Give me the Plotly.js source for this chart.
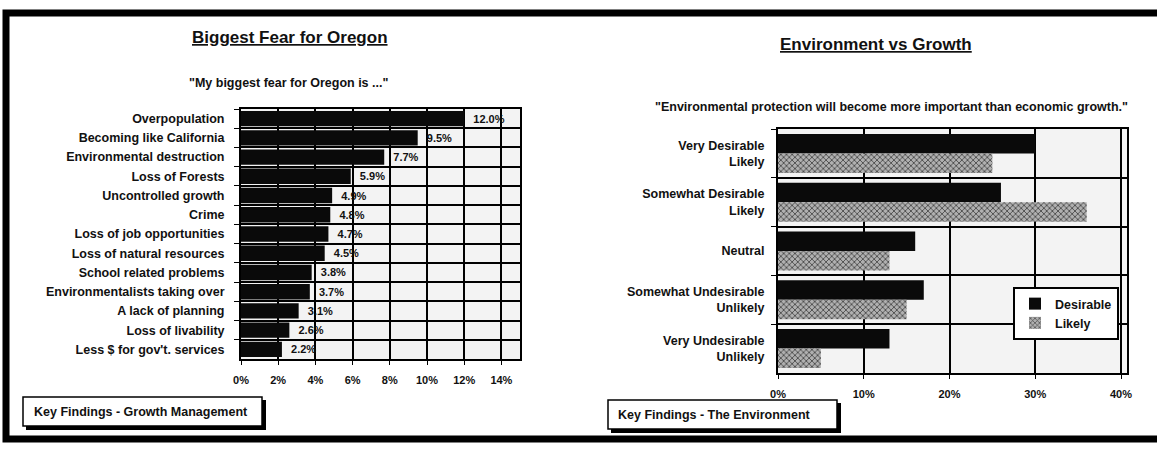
<!DOCTYPE html>
<html>
<head>
<meta charset="utf-8">
<script src="https://cdn.plot.ly/plotly-3.0.1.min.js"></script>
<style>
  html, body { margin: 0; padding: 0; background: #ffffff; }
  #chart { width: 1157px; height: 450px; }
</style>
</head>
<body>
<div id="chart"></div>
<script>
// Left panel: "My biggest fear for Oregon is ..."
const fearCategories = [
  'Overpopulation',
  'Becoming like California',
  'Environmental destruction',
  'Loss of Forests',
  'Uncontrolled growth',
  'Crime',
  'Loss of job opportunities',
  'Loss of natural resources',
  'School related problems',
  'Environmentalists taking over',
  'A lack of planning',
  'Loss of livability',
  "Less $ for gov't. services"
];
const fearPercent = [12.0, 9.5, 7.7, 5.9, 4.9, 4.8, 4.7, 4.5, 3.8, 3.7, 3.1, 2.6, 2.2];
const fearTicks = [0, 2, 4, 6, 8, 10, 12, 14];

// Right panel: environmental protection vs economic growth
const envCategories = [
  'Very Desirable<br>Likely',
  'Somewhat Desirable<br>Likely',
  'Neutral',
  'Somewhat Undesirable<br>Unlikely',
  'Very Undesirable<br>Unlikely'
];
const desirablePercent = [30, 26, 16, 17, 13];
const likelyPercent = [25, 36, 13, 15, 5];
const envTicks = [0, 10, 20, 30, 40];

const W = 1157, H = 450;
const px = v => v / W;
const py = v => 1 - v / H;
const pct = v => v + '%';

const FONT = 'Liberation Sans, Arial, sans-serif';
const bold = (size) => ({ family: FONT, size: size, color: '#111', weight: 700 });

const traces = [
  {
    type: 'bar', orientation: 'h',
    x: fearPercent, y: fearCategories,
    xaxis: 'x', yaxis: 'y',
    marker: { color: '#0a0a0a', line: { width: 0 } },
    texttemplate: '\u00a0\u00a0%{x:.1f}%', textposition: 'outside',
    textfont: bold(11), cliponaxis: false,
    showlegend: false, hoverinfo: 'x+y'
  },
  {
    type: 'bar', orientation: 'h', name: 'Desirable',
    x: desirablePercent, y: envCategories,
    xaxis: 'x2', yaxis: 'y2', legendgroup: 'd',
    marker: { color: '#0a0a0a', line: { width: 0 } }
  },
  {
    type: 'bar', orientation: 'h', name: 'Likely',
    x: likelyPercent, y: envCategories,
    xaxis: 'x2', yaxis: 'y2', legendgroup: 'l',
    marker: {
      color: '#9a9a9a',
      line: { width: 0 },
      pattern: { shape: 'x', fgcolor: '#3a3a3a', bgcolor: '#b0b0b0', size: 4, solidity: 0.35 }
    }
  }
];

const axisCommon = {
  showline: true, linecolor: '#000', linewidth: 2, mirror: true,
  showgrid: true, gridcolor: '#000', gridwidth: 2,
  zeroline: false, ticks: 'outside', tickcolor: '#000', ticklen: 4,
  fixedrange: true
};

const layout = {
  width: W, height: H,
  margin: { l: 0, r: 0, t: 0, b: 0 },
  paper_bgcolor: '#ffffff',
  plot_bgcolor: '#f3f3f3',
  font: { family: FONT, color: '#111' },
  barmode: 'group',
  bargap: 0.2,
  bargroupgap: 0.0,
  xaxis: Object.assign({}, axisCommon, {
    domain: [px(241), px(520)], anchor: 'y',
    range: [0, 15], tickmode: 'array', tickvals: fearTicks, ticktext: fearTicks.map(pct),
    tickfont: bold(11), ticklabelstandoff: 6
  }),
  yaxis: Object.assign({}, axisCommon, {
    domain: [py(359), py(109)], anchor: 'x',
    type: 'category', autorange: 'reversed', tickson: 'boundaries',
    ticklen: 5, tickfont: bold(12.5), ticklabelstandoff: 12
  }),
  xaxis2: Object.assign({}, axisCommon, {
    domain: [px(778), px(1127)], anchor: 'y2',
    range: [0, 40.7], tickmode: 'array', tickvals: envTicks, ticktext: envTicks.map(pct),
    tickfont: bold(11), ticklabelstandoff: 6
  }),
  yaxis2: Object.assign({}, axisCommon, {
    domain: [py(373), py(129)], anchor: 'x2',
    type: 'category', autorange: 'reversed', tickson: 'boundaries',
    ticklen: 5, tickfont: bold(12.5), ticklabelstandoff: 9
  }),
  legend: {
    x: px(1013), y: py(287), xanchor: 'left', yanchor: 'top',
    bgcolor: '#ffffff', bordercolor: '#000', borderwidth: 2,
    font: bold(12.5), tracegroupgap: 9, traceorder: 'normal'
  },
  annotations: [
    {
      text: 'Biggest Fear for Oregon', xref: 'paper', yref: 'paper',
      x: px(290), y: py(38), showarrow: false, xanchor: 'center', yanchor: 'middle',
      font: Object.assign(bold(17), { lineposition: 'under' })
    },
    {
      text: '"My biggest fear for Oregon is ..."', xref: 'paper', yref: 'paper',
      x: px(288), y: py(83), showarrow: false, xanchor: 'center', yanchor: 'middle',
      font: bold(12.5)
    },
    {
      text: 'Environment vs Growth', xref: 'paper', yref: 'paper',
      x: px(876), y: py(45), showarrow: false, xanchor: 'center', yanchor: 'middle',
      font: Object.assign(bold(17), { lineposition: 'under' })
    },
    {
      text: '"Environmental protection will become more important than economic growth."',
      xref: 'paper', yref: 'paper',
      x: px(891), y: py(107), showarrow: false, xanchor: 'center', yanchor: 'middle',
      font: bold(12.5)
    },
    {
      text: 'Key Findings - Growth Management', xref: 'paper', yref: 'paper',
      x: px(32), y: py(412), showarrow: false, xanchor: 'left', yanchor: 'middle',
      font: bold(12.5)
    },
    {
      text: 'Key Findings - The Environment', xref: 'paper', yref: 'paper',
      x: px(616), y: py(415), showarrow: false, xanchor: 'left', yanchor: 'middle',
      font: bold(12.5)
    }
  ],
  shapes: [
    // page frame
    { type: 'rect', xref: 'paper', yref: 'paper', layer: 'above',
      x0: px(6), x1: px(1170), y0: py(439), y1: py(13),
      line: { color: '#000', width: 7 } },
    // caption boxes with drop shadow
    { type: 'rect', xref: 'paper', yref: 'paper', layer: 'below',
      x0: px(26), x1: px(266), y0: py(430), y1: py(400),
      fillcolor: '#000', line: { width: 0 } },
    { type: 'rect', xref: 'paper', yref: 'paper', layer: 'below',
      x0: px(23), x1: px(262), y0: py(426), y1: py(397),
      fillcolor: '#fff', line: { color: '#000', width: 1.5 } },
    { type: 'rect', xref: 'paper', yref: 'paper', layer: 'below',
      x0: px(611), x1: px(841), y0: py(433), y1: py(403),
      fillcolor: '#000', line: { width: 0 } },
    { type: 'rect', xref: 'paper', yref: 'paper', layer: 'below',
      x0: px(608), x1: px(837), y0: py(429), y1: py(400),
      fillcolor: '#fff', line: { color: '#000', width: 1.5 } }
  ]
};

Plotly.newPlot('chart', traces, layout, { displayModeBar: false, staticPlot: true });
</script>
</body>
</html>
